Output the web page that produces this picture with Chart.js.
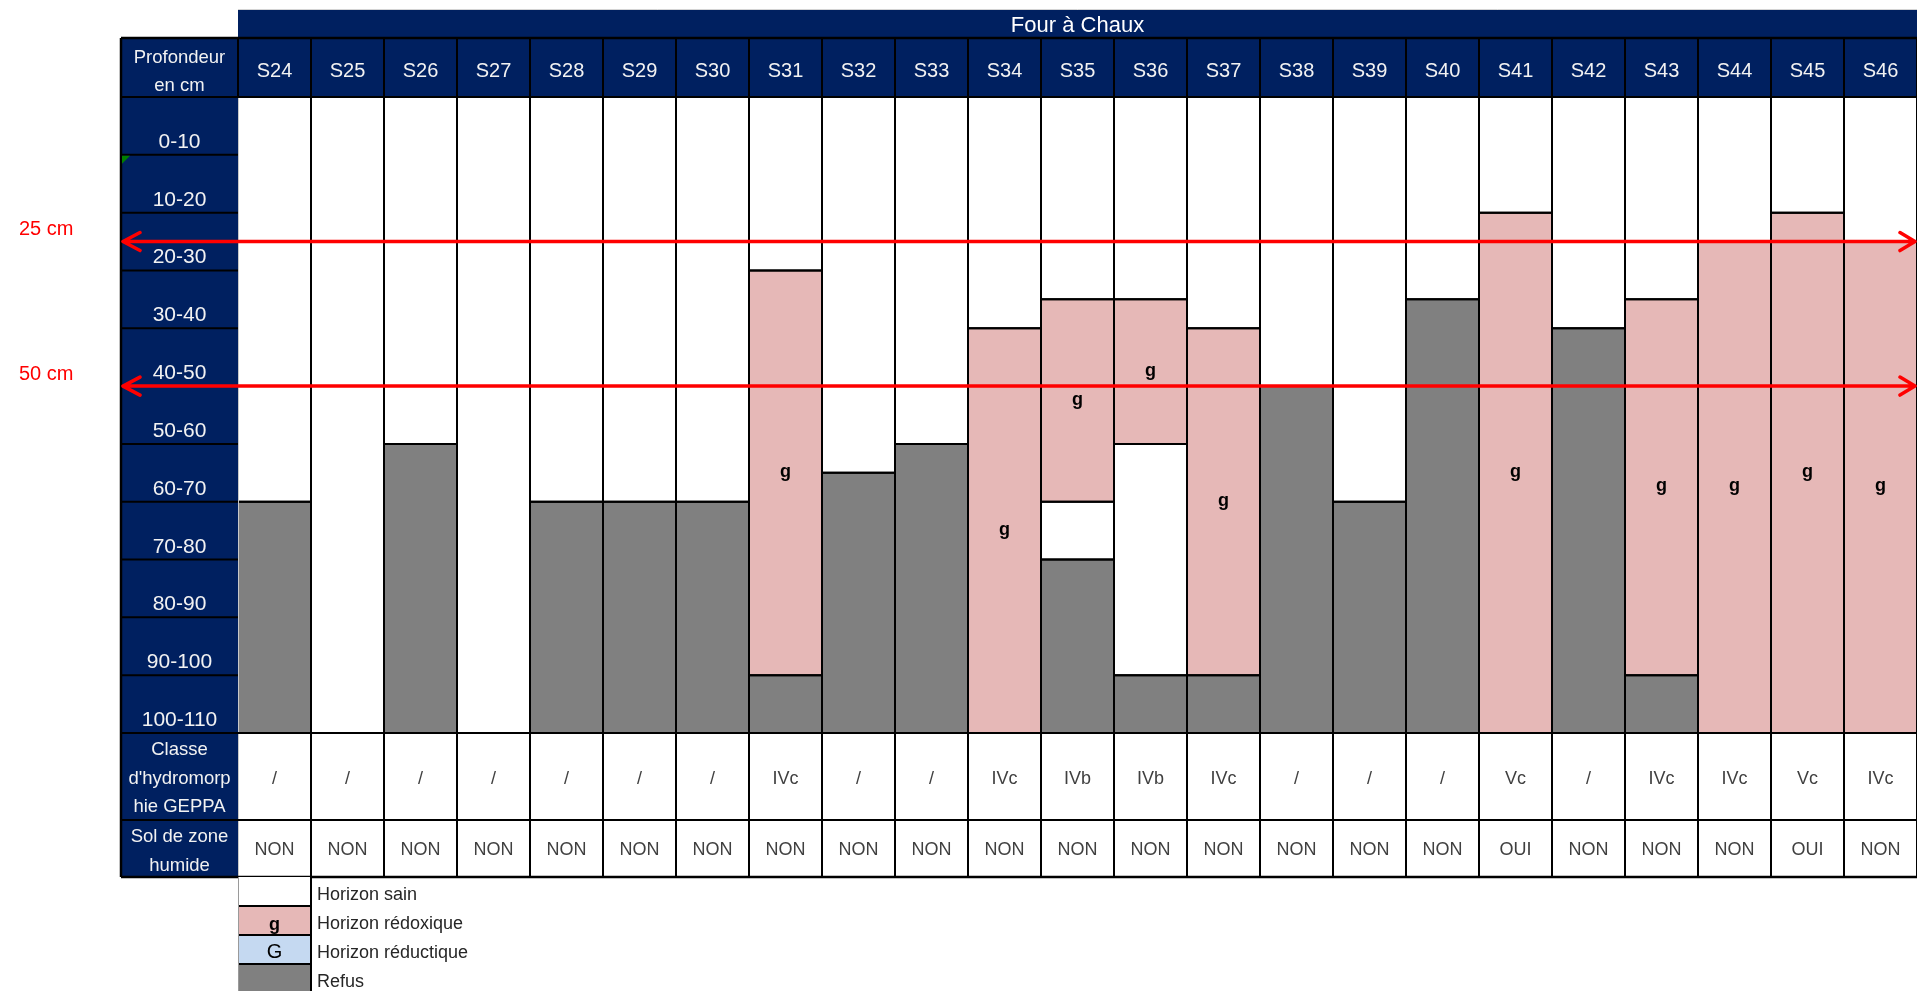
<!DOCTYPE html>
<html>
<head>
<meta charset="utf-8">
<title>Four à Chaux</title>
<script src="https://cdn.jsdelivr.net/npm/chart.js@4.4.1/dist/chart.umd.min.js"></script>
<style>
  html, body { margin: 0; padding: 0; background: #ffffff; overflow: hidden; }
  canvas { display: block; }
</style>
</head>
<body>
<canvas id="profils" width="1917" height="991"></canvas>
<script>
// ---- Données des sondages ----
const titre = 'Four à Chaux';
const sondages = ['S24','S25','S26','S27','S28','S29','S30','S31','S32','S33','S34','S35',
                  'S36','S37','S38','S39','S40','S41','S42','S43','S44','S45','S46'];
const profondeurs = ['0-10','10-20','20-30','30-40','40-50','50-60','60-70','70-80','80-90','90-100','100-110'];

// Intervalles [début, fin] en cm, null = absent
const horizonSain = [[0,70],[0,110],[0,60],[0,110],[0,70],[0,70],[0,70],[0,30],[0,65],[0,60],[0,40],[0,35],
                     [0,35],[0,40],[0,50],[0,70],[0,35],[0,20],[0,40],[0,35],[0,25],[0,20],[0,25]];
const horizonRedoxique = [null,null,null,null,null,null,null,[30,100],null,null,[40,110],[35,70],
                          [35,60],[40,100],null,null,null,[20,110],null,[35,100],[25,110],[20,110],[25,110]];
const horizonSainProfond = [null,null,null,null,null,null,null,null,null,null,null,[70,80],
                            [60,100],null,null,null,null,null,null,null,null,null,null];
const horizonReductique = [null,null,null,null,null,null,null,null,null,null,null,null,
                           null,null,null,null,null,null,null,null,null,null,null];
const refus = [[70,110],null,[60,110],null,[70,110],[70,110],[70,110],[100,110],[65,110],[60,110],null,[80,110],
               [100,110],[100,110],[50,110],[70,110],[35,110],null,[40,110],[100,110],null,null,null];

const classeGeppa = ['/','/','/','/','/','/','/','IVc','/','/','IVc','IVb',
                     'IVb','IVc','/','/','/','Vc','/','IVc','IVc','Vc','IVc'];
const zoneHumide = ['NON','NON','NON','NON','NON','NON','NON','NON','NON','NON','NON','NON',
                    'NON','NON','NON','NON','NON','OUI','NON','NON','NON','OUI','NON'];

const seuils = [25, 50];
const seuilLabels = ['25 cm', '50 cm'];
const legendLabels = ['Horizon sain', 'Horizon rédoxique', 'Horizon réductique', 'Refus'];
const legendCodes = ['', 'g', 'G', ''];

// ---- Mise en forme ----
const NAVY = '#002060', PINK = '#E6B8B7', BLUE = '#C5D9F1', GREY = '#808080', RED = '#FF0000';
const FONT = '"Liberation Sans", Arial, sans-serif';
const G = {
  labelLeft: 121, dataLeft: 238, right: 1917,
  titleTop: 10, headTop: 38, headBottom: 97, tableBottom: 733,
  classeBottom: 820, solBottom: 877, legendRow: 29
};

function line(ctx, x1, y1, x2, y2, w, color) {
  ctx.save();
  ctx.strokeStyle = color || '#000';
  ctx.lineWidth = w;
  ctx.beginPath();
  ctx.moveTo(x1, y1);
  ctx.lineTo(x2, y2);
  ctx.stroke();
  ctx.restore();
}
function text(ctx, str, x, y, font, color, align) {
  ctx.save();
  ctx.font = font;
  ctx.fillStyle = color;
  ctx.textAlign = align || 'center';
  ctx.textBaseline = 'alphabetic';
  ctx.fillText(str, x, y);
  ctx.restore();
}

const tableau = {
  id: 'tableau',
  beforeDraw(chart) {
    const ctx = chart.ctx;
    ctx.save();
    ctx.fillStyle = '#ffffff';
    ctx.fillRect(0, 0, chart.width, chart.height);
    // bandeau du titre
    line(ctx, G.dataLeft, 9.5, G.right, 9.5, 1, '#d4d4d4');
    ctx.fillStyle = NAVY;
    ctx.fillRect(G.dataLeft, G.titleTop, G.right - G.dataLeft, G.headTop - G.titleTop);
    // ligne d'en-tête
    ctx.fillRect(G.labelLeft, G.headTop, G.right - G.labelLeft, G.headBottom - G.headTop);
    // colonne des intitulés
    ctx.fillRect(G.labelLeft, G.headBottom, G.dataLeft - G.labelLeft, G.solBottom - G.headBottom);
    ctx.restore();
  },
  afterDatasetsDraw(chart) {
    const ctx = chart.ctx;
    const xs = chart.scales.x, ys = chart.scales.y;
    const colW = xs.getPixelForValue(1) - xs.getPixelForValue(0);
    const left = i => xs.getPixelForValue(i) - colW / 2;
    const labelX = (G.labelLeft + G.dataLeft) / 2;

    // limites des horizons
    chart.data.datasets.forEach((ds, d) => {
      chart.getDatasetMeta(d).data.forEach((el, i) => {
        if (!ds.data[i]) return;
        const x1 = el.x - el.width / 2, x2 = el.x + el.width / 2;
        line(ctx, x1, el.y, x2, el.y, 2);
        line(ctx, x1, el.base, x2, el.base, 2);
      });
    });

    // séparations des colonnes
    for (let i = 1; i <= sondages.length; i++) {
      line(ctx, left(i), G.headTop, left(i), G.solBottom, 2);
    }
    line(ctx, G.dataLeft, G.headTop, G.dataLeft, G.headBottom, 2);
    line(ctx, G.dataLeft + 0.5, G.headBottom, G.dataLeft + 0.5, G.solBottom, 1, '#c8c8c8');

    // lignes horizontales
    line(ctx, G.labelLeft, G.headTop, G.right, G.headTop, 2.5);
    line(ctx, G.labelLeft, ys.top, G.right, ys.top, 2);
    line(ctx, G.labelLeft, ys.bottom, G.right, ys.bottom, 2);
    line(ctx, G.labelLeft, G.classeBottom, G.right, G.classeBottom, 2);
    line(ctx, G.labelLeft, G.solBottom, G.right, G.solBottom, 2.5);
    line(ctx, G.labelLeft, G.headTop, G.labelLeft, G.solBottom, 2.5);
    for (let k = 1; k < profondeurs.length; k++) {
      const y = ys.getPixelForValue(k * 10);
      line(ctx, G.labelLeft, y, G.dataLeft, y, 2);
    }
    // marqueur de commentaire
    ctx.save();
    ctx.fillStyle = '#008000';
    const yc = ys.getPixelForValue(10) + 1;
    ctx.beginPath();
    ctx.moveTo(G.labelLeft + 1, yc);
    ctx.lineTo(G.labelLeft + 9, yc);
    ctx.lineTo(G.labelLeft + 1, yc + 8);
    ctx.closePath();
    ctx.fill();
    ctx.restore();

    // titre et en-têtes
    text(ctx, titre, (G.dataLeft + G.right) / 2, 31.5, '22px ' + FONT, '#ffffff');
    text(ctx, 'Profondeur', labelX, 62.5, '18.5px ' + FONT, '#f2f2f2');
    text(ctx, 'en cm', labelX, 91, '18.5px ' + FONT, '#f2f2f2');
    sondages.forEach((s, i) => text(ctx, s, xs.getPixelForValue(i), 76.5, '20px ' + FONT, '#f2f2f2'));

    // profondeurs
    profondeurs.forEach((p, k) => {
      const yb = ys.getPixelForValue((k + 1) * 10);
      text(ctx, p, labelX, yb - 7, '21px ' + FONT, '#f2f2f2');
    });

    // lettres des horizons rédoxiques
    const redox = chart.getDatasetMeta(1);
    redox.data.forEach((el, i) => {
      if (!horizonRedoxique[i]) return;
      text(ctx, 'g', el.x, (el.y + el.base) / 2 + 4, 'bold 18px ' + FONT, '#000000');
    });

    // classe d'hydromorphie et zone humide
    ['Classe', "d'hydromorp", 'hie GEPPA'].forEach((t, k) =>
      text(ctx, t, labelX, 755 + k * 28.7, '18.5px ' + FONT, '#f2f2f2'));
    ['Sol de zone', 'humide'].forEach((t, k) =>
      text(ctx, t, labelX, 841.5 + k * 29, '18.5px ' + FONT, '#f2f2f2'));
    classeGeppa.forEach((c, i) => text(ctx, c, xs.getPixelForValue(i), 784, '18px ' + FONT, '#404040'));
    zoneHumide.forEach((z, i) => text(ctx, z, xs.getPixelForValue(i), 855, '18px ' + FONT, '#404040'));

    // légende
    const swFill = ['#ffffff', PINK, BLUE, GREY];
    const swL = G.dataLeft, swR = left(1);
    legendLabels.forEach((lab, k) => {
      const y0 = G.solBottom + k * G.legendRow;
      ctx.save();
      ctx.fillStyle = swFill[k];
      ctx.fillRect(swL, y0, swR - swL, G.legendRow + (k === 3 ? 4 : 0));
      ctx.restore();
      if (legendCodes[k] === 'g') text(ctx, 'g', (swL + swR) / 2, y0 + 24, 'bold 18px ' + FONT, '#000');
      if (legendCodes[k] === 'G') text(ctx, 'G', (swL + swR) / 2, y0 + 23, '20px ' + FONT, '#000');
      text(ctx, lab, swR + 6, y0 + 23, '18px ' + FONT, '#262626', 'left');
      if (k > 0) line(ctx, swL, y0, swR, y0, 2);
    });
    line(ctx, swR, G.solBottom, swR, chart.height, 2);
    line(ctx, swL + 0.5, G.solBottom, swL + 0.5, chart.height, 1, '#9a9a9a');

    // repères de profondeur
    seuils.forEach((s, k) => {
      const y = ys.getPixelForValue(s);
      ctx.save();
      ctx.strokeStyle = RED;
      ctx.lineWidth = 3.5;
      ctx.lineCap = 'round';
      ctx.lineJoin = 'round';
      ctx.beginPath();
      ctx.moveTo(G.labelLeft + 2, y);
      ctx.lineTo(G.right - 2, y);
      ctx.moveTo(G.labelLeft + 19, y - 9);
      ctx.lineTo(G.labelLeft + 2, y);
      ctx.lineTo(G.labelLeft + 19, y + 9);
      ctx.moveTo(G.right - 17, y - 9);
      ctx.lineTo(G.right - 2, y);
      ctx.lineTo(G.right - 17, y + 9);
      ctx.stroke();
      ctx.restore();
      text(ctx, seuilLabels[k], 19, y - 6.5, '20px ' + FONT, RED, 'left');
    });
  }
};

const serie = (label, data, color) => ({
  label, data, backgroundColor: color, borderWidth: 0,
  grouped: false, barPercentage: 1, categoryPercentage: 1
});

new Chart(document.getElementById('profils'), {
  type: 'bar',
  data: {
    labels: sondages,
    datasets: [
      serie('Horizon sain', horizonSain, '#ffffff'),
      serie('Horizon rédoxique', horizonRedoxique, PINK),
      serie('Horizon réductique', horizonReductique, BLUE),
      serie('Horizon sain', horizonSainProfond, '#ffffff'),
      serie('Refus', refus, GREY)
    ]
  },
  options: {
    responsive: false,
    animation: false,
    devicePixelRatio: 1,
    layout: { padding: { left: G.dataLeft, top: G.headBottom, right: 0, bottom: 991 - G.tableBottom } },
    plugins: { legend: { display: false }, tooltip: { enabled: false } },
    scales: {
      x: { display: false },
      y: { display: false, min: 0, max: 110, reverse: true }
    }
  },
  plugins: [tableau]
});
</script>
</body>
</html>
